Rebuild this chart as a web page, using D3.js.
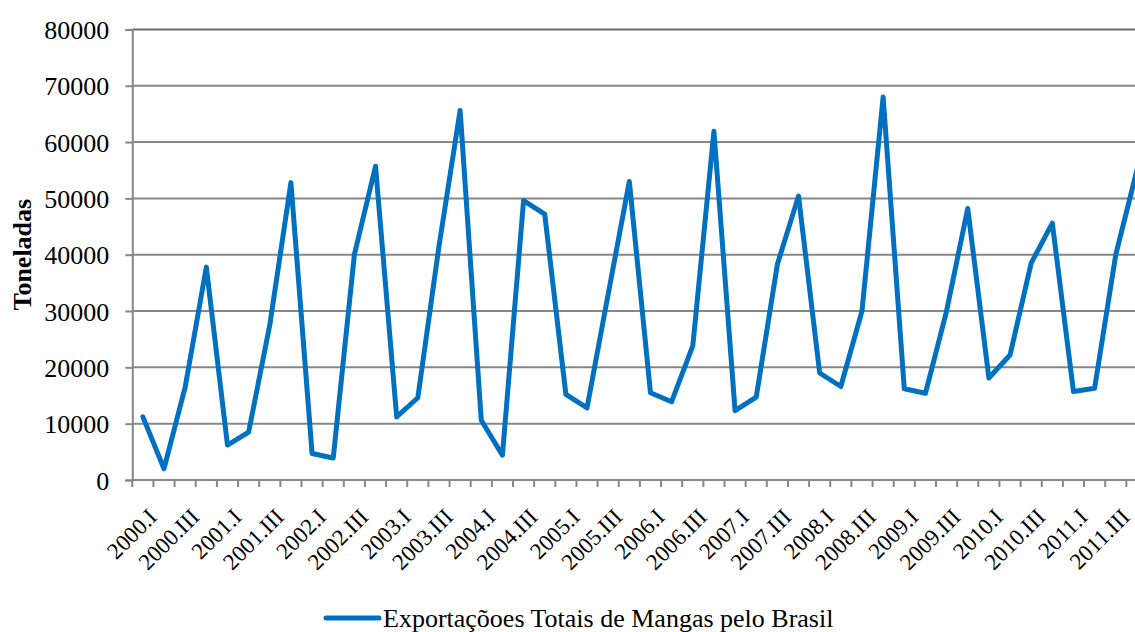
<!DOCTYPE html>
<html>
<head>
<meta charset="utf-8">
<script src="https://cdn.jsdelivr.net/npm/d3@7"></script>
<style>
  html, body { margin: 0; padding: 0; background: #fff; overflow: hidden; }
  svg { display: block; }
</style>
</head>
<body>
<div id="graph"></div>
<script>
// Quarterly mango exports (tonnes), 2000.I - 2011.IV
const years = d3.range(2000, 2012);
const quarters = ["I", "II", "III", "IV"];
const categories = years.flatMap(y => quarters.map(q => `${y}.${q}`));

const exports = [
  11200, 2000, 16500, 37800,
  6200, 8500, 27500, 52800,
  4700, 3900, 40000, 55700,
  11200, 14600, 41500, 65600,
  10600, 4400, 49600, 47200,
  15200, 12800, 33000, 53000,
  15500, 13900, 23800, 61900,
  12300, 14700, 38300, 50400,
  19000, 16600, 30000, 68000,
  16200, 15400, 30000, 48200,
  18100, 22200, 38500, 45600,
  15700, 16300, 40000, 55000,
];

const yTicks = [0, 10000, 20000, 30000, 40000, 50000, 60000, 70000, 80000];
const seriesName = "Exportaçõoes Totais de Mangas pelo Brasil";
const yTitle = "Toneladas";

///////////////////////////////////////////////////////////////////////////////

const width = 1135;
const height = 632;
const margin = { top: 29.4, left: 132.3 };
const plotW = 48 * 21.15; // runs a little past the right edge, as in the original
const plotH = 480 - margin.top;

const gridColor = "#878787";
const lineColor = "#0070C0";
const font = '"Liberation Serif", serif';

const svg = d3
  .select("#graph")
  .append("svg")
  .attr("width", width)
  .attr("height", height)
  .style("font-family", font);

const x = d3.scaleBand().domain(categories).range([0, plotW]);
const y = d3.scaleLinear().domain([0, 80000]).range([plotH, 0]);

const chart = svg
  .append("g")
  .attr("transform", `translate(${margin.left}, ${margin.top})`);

// Horizontal gridlines
chart
  .selectAll(".grid")
  .data(yTicks.filter(t => t > 0))
  .enter()
  .append("line")
  .attr("x1", 0)
  .attr("x2", plotW)
  .attr("y1", d => y(d))
  .attr("y2", d => y(d))
  .style("stroke", d => (d === 80000 ? "#6a6a6a" : gridColor))
  .style("stroke-width", 2);

// Y axis
const yAxis = chart
  .append("g")
  .call(
    d3
      .axisLeft(y)
      .tickValues(yTicks)
      .tickSize(7)
      .tickPadding(16)
      .tickFormat(d3.format("d"))
  );
yAxis.attr("font-family", null).attr("font-size", null);
yAxis.select(".domain").style("stroke", gridColor).style("stroke-width", 2);
yAxis.selectAll(".tick line").style("stroke", gridColor).style("stroke-width", 2);
yAxis
  .selectAll(".tick text")
  .style("font-family", font)
  .style("font-size", "26px")
  .attr("dy", "0.35em")
  .style("fill", "#000");

// X axis: tick marks at category boundaries
const xAxisG = chart.append("g").attr("transform", `translate(0, ${plotH})`);
xAxisG
  .append("line")
  .attr("x1", 0)
  .attr("x2", plotW)
  .style("stroke", gridColor)
  .style("stroke-width", 2);
xAxisG
  .selectAll(".xtick")
  .data(categories)
  .enter()
  .append("line")
  .attr("x1", d => x(d))
  .attr("x2", d => x(d))
  .attr("y1", 0)
  .attr("y2", 7)
  .style("stroke", gridColor)
  .style("stroke-width", 2);

// X labels, every other quarter, rotated 45 degrees
xAxisG
  .selectAll(".xlabel")
  .data(categories.filter((d, i) => i % 2 === 0))
  .enter()
  .append("text")
  .attr(
    "transform",
    d => `translate(${x(d) + x.bandwidth() / 2 + 4}, 27) rotate(-45)`
  )
  .attr("text-anchor", "end")
  .attr("dy", "0.7em")
  .style("font-family", font)
  .style("font-size", "23px")
  .text(d => d);

// Y axis title
svg
  .append("text")
  .attr("transform", `translate(31, ${margin.top + plotH / 2}) rotate(-90)`)
  .attr("text-anchor", "middle")
  .style("font-family", font)
  .style("font-size", "26px")
  .style("font-weight", "bold")
  .text(yTitle);

// Series line
const line = d3
  .line()
  .x((d, i) => x(categories[i]) + x.bandwidth() / 2)
  .y(d => y(d));

chart
  .append("path")
  .datum(exports)
  .attr("d", line)
  .style("fill", "none")
  .style("stroke", lineColor)
  .style("stroke-width", 5)
  .style("stroke-linejoin", "round")
  .style("stroke-linecap", "round");

// Legend
const legend = svg.append("g").attr("transform", "translate(326, 618)");
legend
  .append("line")
  .attr("x1", 0)
  .attr("x2", 53)
  .style("stroke", lineColor)
  .style("stroke-width", 5)
  .style("stroke-linecap", "round");
legend
  .append("text")
  .attr("x", 57)
  .attr("dy", "0.33em")
  .style("font-family", font)
  .style("font-size", "26px")
  .text(seriesName);
</script>
</body>
</html>
